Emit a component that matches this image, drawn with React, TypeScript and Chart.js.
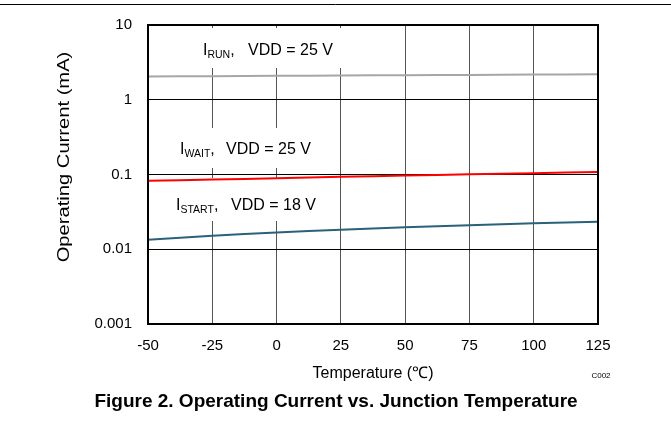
import React, { useEffect, useRef } from "react";
import { Chart, registerables } from "chart.js";

Chart.register(...registerables);

const temperatures = [-50, -25, 0, 25, 50, 75, 100, 125];
const iRun = [2.05, 2.07, 2.09, 2.11, 2.13, 2.15, 2.17, 2.2];
const iWait = [0.0826, 0.0855, 0.089, 0.093, 0.097, 0.1005, 0.104, 0.108];
const iStart = [0.0134, 0.0152, 0.0168, 0.0182, 0.0197, 0.021, 0.0222, 0.0233];
const yTicks = [0.001, 0.01, 0.1, 1, 10];
const yTickLabels = ["0.001", "0.01", "0.1", "1", "10"];
const xTicks = [-50, -25, 0, 25, 50, 75, 100, 125];

const FONT = "'Liberation Sans', Arial, sans-serif";

type Label = { sub: string; rest: string; x: number; vx: number; y: number; box: [number, number, number, number] };
const labels: Label[] = [
  { sub: "RUN", rest: "VDD = 25 V", x: 203, vx: 248, y: 55, box: [150, 28, 395, 68] },
  { sub: "WAIT", rest: "VDD = 25 V", x: 180, vx: 226, y: 154, box: [150, 128, 336, 168] },
  { sub: "START", rest: "VDD = 18 V", x: 176, vx: 231, y: 210, box: [150, 178, 340, 221] },
];

const decorPlugin = {
  id: "decor",
  beforeDatasetsDraw(chart: any) {
    const ctx = chart.ctx;
    ctx.save();
    for (const l of labels) {
      const [x0, y0, x1, y1] = l.box;
      ctx.fillStyle = "#ffffff";
      ctx.fillRect(x0, y0, x1 - x0, y1 - y0);
      ctx.fillStyle = "#000000";
      ctx.textBaseline = "alphabetic";
      ctx.textAlign = "left";
      ctx.font = `16px ${FONT}`;
      ctx.fillText("I", l.x, l.y);
      let x = l.x + ctx.measureText("I").width;
      ctx.font = `10.5px ${FONT}`;
      ctx.fillText(l.sub, x, l.y + 3);
      x += ctx.measureText(l.sub).width;
      ctx.font = `16px ${FONT}`;
      ctx.fillText(",", x, l.y);
      ctx.fillText(l.rest, l.vx, l.y);
    }
    ctx.restore();
  },
  afterDraw(chart: any) {
    const ctx = chart.ctx;
    const a = chart.chartArea;
    ctx.save();
    ctx.strokeStyle = "#000000";
    ctx.lineWidth = 2;
    ctx.strokeRect(a.left, a.top, a.right - a.left, a.bottom - a.top);
    ctx.lineWidth = 1;
    ctx.beginPath();
    ctx.moveTo(0, 4.5);
    ctx.lineTo(671, 4.5);
    ctx.stroke();
    ctx.fillStyle = "#000000";
    ctx.font = `16px ${FONT}`;
    ctx.textAlign = "center";
    ctx.textBaseline = "middle";
    ctx.translate(65, 157);
    ctx.rotate(-Math.PI / 2);
    ctx.scale(1.26, 1);
    ctx.fillText("Operating Current (mA)", 0, 0);
    ctx.setTransform(1, 0, 0, 1, 0, 0);
    ctx.font = `8px ${FONT}`;
    ctx.fillText("C002", 601, 376);
    ctx.font = `bold 19px ${FONT}`;
    ctx.fillText("Figure 2. Operating Current vs. Junction Temperature", 336, 402);
    ctx.restore();
  },
};

export default function App() {
  const ref = useRef<HTMLCanvasElement>(null);
  useEffect(() => {
    if (!ref.current) return;
    const mk = (vals: number[]) => temperatures.map((t, i) => ({ x: t, y: vals[i] }));
    const chart = new Chart(ref.current, {
      type: "line",
      data: {
        datasets: [
          { label: "IRUN", data: mk(iRun), borderColor: "#a6a6a6", borderWidth: 2, pointRadius: 0, tension: 0.3 },
          { label: "IWAIT", data: mk(iWait), borderColor: "#ff0000", borderWidth: 2, pointRadius: 0, tension: 0.3 },
          { label: "ISTART", data: mk(iStart), borderColor: "#2b6179", borderWidth: 2, pointRadius: 0, tension: 0.3 },
        ],
      },
      options: {
        animation: false,
        responsive: false,
        layout: { padding: { top: 20, right: 73, left: 0, bottom: 0 } },
        plugins: { legend: { display: false }, tooltip: { enabled: false } },
        scales: {
          x: {
            type: "linear",
            min: -50,
            max: 125,
            afterFit: (s: any) => { s.height = 100; },
            afterBuildTicks: (s: any) => { s.ticks = xTicks.map((v) => ({ value: v })); },
            grid: { color: "#555555", lineWidth: 1, drawTicks: false },
            border: { display: false },
            ticks: { color: "#000", font: { family: FONT, size: 15 }, padding: 13, maxRotation: 0, callback: (v: any) => String(v) },
            title: { display: true, text: "Temperature (℃)", color: "#000", font: { family: FONT, size: 16 }, padding: { bottom: 41 } },
          },
          y: {
            type: "logarithmic",
            min: 0.001,
            max: 10,
            afterFit: (s: any) => { s.width = 148; },
            afterBuildTicks: (s: any) => { s.ticks = yTicks.map((v) => ({ value: v })); },
            grid: { color: "#000000", lineWidth: 1, drawTicks: false },
            border: { display: false },
            ticks: {
              color: "#000",
              font: { family: FONT, size: 15 },
              padding: 16,
              callback: (v: any) => { const i = yTicks.indexOf(Number(v)); return i >= 0 ? yTickLabels[i] : ""; },
            },
          },
        },
      },
      plugins: [decorPlugin],
    });
    return () => chart.destroy();
  }, []);
  return (
    <div style={{ position: "absolute", left: 0, top: 0, width: 671, height: 424, background: "#fff" }}>
      <canvas ref={ref} width={671} height={424} style={{ display: "block" }} />
    </div>
  );
}
